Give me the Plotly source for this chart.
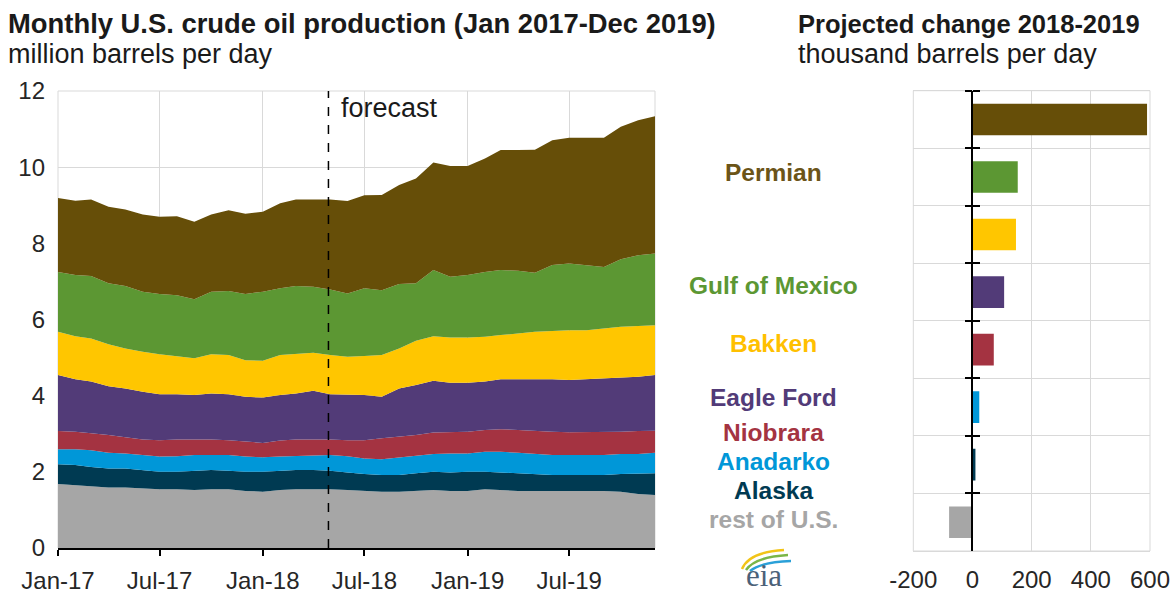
import plotly.graph_objects as go
import pandas as pd

W, H = 1173, 596


def px(x):
    return x / W


def py(y):
    return 1 - y / H


FONT = "Liberation Sans, Arial, sans-serif"

# ---------------- data ----------------
months = pd.date_range("2017-01-01", periods=36, freq="MS")

rest_us = [1.68, 1.65, 1.63, 1.59, 1.59, 1.57, 1.54, 1.54, 1.52, 1.54, 1.54, 1.50,
           1.48, 1.52, 1.54, 1.54, 1.54, 1.52, 1.50, 1.48, 1.48, 1.50, 1.52, 1.50,
           1.50, 1.54, 1.52, 1.50, 1.50, 1.50, 1.50, 1.50, 1.50, 1.48, 1.42, 1.39]
alaska = [0.52, 0.53, 0.50, 0.50, 0.50, 0.48, 0.46, 0.46, 0.51, 0.51, 0.49, 0.50,
          0.52, 0.51, 0.51, 0.51, 0.49, 0.46, 0.44, 0.44, 0.44, 0.46, 0.48, 0.48,
          0.50, 0.46, 0.46, 0.46, 0.44, 0.42, 0.42, 0.42, 0.42, 0.46, 0.54, 0.57]
anadarko = [0.39, 0.41, 0.44, 0.41, 0.39, 0.39, 0.40, 0.41, 0.41, 0.39, 0.41, 0.40,
            0.38, 0.37, 0.36, 0.39, 0.41, 0.43, 0.41, 0.41, 0.46, 0.45, 0.47, 0.50,
            0.48, 0.53, 0.55, 0.54, 0.53, 0.52, 0.52, 0.52, 0.52, 0.53, 0.51, 0.54]
niobrara = [0.48, 0.46, 0.44, 0.47, 0.43, 0.41, 0.43, 0.44, 0.41, 0.41, 0.39, 0.39,
            0.38, 0.42, 0.44, 0.41, 0.41, 0.42, 0.48, 0.55, 0.54, 0.56, 0.56, 0.56,
            0.57, 0.57, 0.59, 0.60, 0.60, 0.61, 0.60, 0.60, 0.60, 0.58, 0.60, 0.58]
eagle_ford = [1.47, 1.38, 1.36, 1.28, 1.28, 1.25, 1.21, 1.19, 1.17, 1.21, 1.21, 1.18,
              1.19, 1.20, 1.21, 1.28, 1.19, 1.19, 1.19, 1.09, 1.27, 1.31, 1.36, 1.30,
              1.29, 1.27, 1.31, 1.33, 1.36, 1.38, 1.37, 1.39, 1.41, 1.43, 1.43, 1.46]
bakken = [1.14, 1.13, 1.13, 1.10, 1.05, 1.05, 1.05, 1.00, 0.96, 1.03, 1.03, 0.96,
          0.97, 1.05, 1.03, 1.00, 1.03, 1.00, 1.02, 1.10, 1.05, 1.16, 1.17, 1.19,
          1.19, 1.18, 1.16, 1.20, 1.25, 1.27, 1.31, 1.29, 1.32, 1.33, 1.33, 1.31]
gulf_of_mexico = [1.57, 1.61, 1.64, 1.60, 1.64, 1.58, 1.58, 1.60, 1.55, 1.64, 1.68, 1.74,
                  1.81, 1.75, 1.79, 1.73, 1.72, 1.66, 1.78, 1.70, 1.69, 1.51, 1.74, 1.59,
                  1.64, 1.70, 1.71, 1.65, 1.55, 1.73, 1.75, 1.71, 1.61, 1.77, 1.86, 1.88]
permian = [1.94, 1.95, 2.01, 2.01, 2.01, 2.03, 2.03, 2.07, 2.04, 2.03, 2.12, 2.11,
           2.10, 2.23, 2.27, 2.29, 2.36, 2.43, 2.44, 2.50, 2.60, 2.75, 2.82, 2.91,
           2.86, 2.98, 3.15, 3.17, 3.23, 3.28, 3.30, 3.34, 3.39, 3.48, 3.54, 3.61]

region_names = ["Permian", "Gulf of Mexico", "Bakken", "Eagle Ford",
                "Niobrara", "Anadarko", "Alaska", "rest of U.S."]
region_colors = ["#664e08", "#5c9733", "#ffc600", "#523b78",
                 "#a43341", "#0097d8", "#003a52", "#a6a6a6"]
label_colors = ["#6b5418", "#5c9733", "#ffc000", "#523b78",
                "#a43341", "#0097d8", "#003a52", "#a6a6a6"]
change_2018_2019 = [590, 153, 147, 107, 72, 23, 10, -79]

series_bottom_up = [
    ("rest of U.S.", rest_us),
    ("Alaska", alaska),
    ("Anadarko", anadarko),
    ("Niobrara", niobrara),
    ("Eagle Ford", eagle_ford),
    ("Bakken", bakken),
    ("Gulf of Mexico", gulf_of_mexico),
    ("Permian", permian),
]
color_of = dict(zip(region_names, region_colors))

x_ticks = ["Jan-17", "Jul-17", "Jan-18", "Jul-18", "Jan-19", "Jul-19"]
change_ticks = [-200, 0, 200, 400, 600]
change_tick_text = ["-200", "0", "200", "400", "600"]
forecast_start = "2018-04-28"

# ---------------- figure ----------------
fig = go.Figure()

for name, vals in series_bottom_up:
    fig.add_trace(go.Scatter(
        x=months, y=vals, name=name, mode="lines",
        stackgroup="prod", line=dict(width=0, color=color_of[name]),
        fillcolor=color_of[name], xaxis="x", yaxis="y", showlegend=False,
    ))

fig.add_trace(go.Bar(
    x=change_2018_2019, y=region_names, orientation="h",
    marker=dict(color=region_colors, line=dict(width=0)),
    width=0.55, xaxis="x2", yaxis="y2", showlegend=False,
))
# invisible twin used only to draw the right-hand half of the crossing ticks
fig.add_trace(go.Bar(
    x=change_2018_2019, y=region_names, orientation="h",
    opacity=0, hoverinfo="skip", width=0.55,
    xaxis="x2", yaxis="y3", showlegend=False,
))

L_X0, L_X1, L_Y0, L_Y1 = 58, 655, 548, 91
R_X0, R_X1, R_Y0, R_Y1 = 913.3, 1150, 551, 90.7
zero_px = R_X0 + (R_X1 - R_X0) * 200 / 800

cat_order = list(reversed(region_names))
tickfont = dict(family=FONT, size=24, color="#262626")

fig.update_layout(
    width=W, height=H,
    margin=dict(l=0, r=0, t=0, b=0, autoexpand=False),
    paper_bgcolor="white", plot_bgcolor="white",
    font=dict(family=FONT, color="#262626"),
    bargap=0.45,
    xaxis=dict(
        domain=[px(L_X0), px(L_X1)], anchor="y", automargin=False,
        type="date", range=[months[0], months[-1]],
        tickvals=pd.date_range("2017-01-01", periods=6, freq="6MS"),
        ticktext=x_ticks,
        showgrid=True, gridcolor="#d9d9d9", gridwidth=1,
        showline=True, linecolor="black", linewidth=1.5,
        ticks="outside", ticklen=6, tickcolor="black", tickwidth=1.5,
        ticklabelstandoff=4,
        tickfont=tickfont, zeroline=False,
    ),
    yaxis=dict(
        domain=[py(L_Y0), py(L_Y1)], anchor="x", automargin=False,
        range=[0, 12], dtick=2,
        showgrid=True, gridcolor="#d9d9d9", gridwidth=1,
        zeroline=False, showline=False, ticks="",
        ticklabelstandoff=12, tickfont=tickfont,
    ),
    xaxis2=dict(
        domain=[px(R_X0), px(R_X1)], anchor="y2", automargin=False,
        range=[-200, 600], tickvals=change_ticks, ticktext=change_tick_text,
        showgrid=True, gridcolor="#d9d9d9", gridwidth=1,
        zeroline=False, showline=True, linecolor="#d9d9d9", mirror=True,
        ticks="", ticklabelstandoff=7, tickfont=tickfont,
    ),
    yaxis2=dict(
        domain=[py(R_Y0), py(R_Y1)], anchor="free", position=px(zero_px),
        automargin=False,
        type="category", categoryorder="array", categoryarray=cat_order,
        range=[-0.5, 7.5],
        showgrid=True, gridcolor="#d9d9d9", gridwidth=1,
        tickson="boundaries", ticks="outside", ticklen=7, tickcolor="black",
        tickwidth=1.5,
        showline=True, linecolor="black", linewidth=1.5,
        showticklabels=False, zeroline=False,
    ),
    yaxis3=dict(
        domain=[py(R_Y0), py(R_Y1)], anchor="free", position=px(zero_px),
        overlaying="y2", side="right", automargin=False,
        type="category", categoryorder="array", categoryarray=cat_order,
        range=[-0.5, 7.5], showgrid=False,
        tickson="boundaries", ticks="outside", ticklen=7, tickcolor="black",
        tickwidth=1.5,
        showline=False, showticklabels=False, zeroline=False,
    ),
)

shapes = [
    # panel frames (drawn under the data)
    dict(type="rect", xref="x domain", yref="y domain", x0=0, x1=1, y0=0, y1=1,
         line=dict(color="#d9d9d9", width=1), layer="below"),
    dict(type="rect", xref="x2 domain", yref="y2 domain", x0=0, x1=1, y0=0, y1=1,
         line=dict(color="#d9d9d9", width=1), layer="below"),
    # forecast divider
    dict(type="line", xref="x", yref="y domain", x0=forecast_start, x1=forecast_start,
         y0=0, y1=1, line=dict(color="black", width=1.5, dash="dash"), layer="above"),
]


def arc(xa, ya, xb, yb, xc, yc, color, w):
    return dict(type="path", xref="paper", yref="paper",
                path=f"M {px(xa)},{py(ya)} Q {px(xb)},{py(yb)} {px(xc)},{py(yc)}",
                line=dict(color=color, width=w))


shapes += [
    arc(742, 569, 749, 552, 784, 550, "#f2c417", 2.5),
    arc(746, 570, 755, 557, 788, 555, "#7ab648", 2.5),
    arc(750, 571, 761, 562, 791, 561, "#2aa0d8", 2.5),
]
fig.update_layout(shapes=shapes)

annotations = [
    dict(text="<b>Monthly U.S. crude oil production (Jan 2017-Dec 2019)</b>",
         x=px(6), y=py(24), xanchor="left", yanchor="middle",
         font=dict(family=FONT, size=27.4, color="#1a1a1a")),
    dict(text="million barrels per day",
         x=px(6), y=py(54), xanchor="left", yanchor="middle",
         font=dict(family=FONT, size=27, color="#1a1a1a")),
    dict(text="<b>Projected change 2018-2019</b>",
         x=px(796), y=py(24), xanchor="left", yanchor="middle",
         font=dict(family=FONT, size=25.5, color="#1a1a1a")),
    dict(text="thousand barrels per day",
         x=px(796), y=py(54), xanchor="left", yanchor="middle",
         font=dict(family=FONT, size=27, color="#1a1a1a")),
    dict(text="forecast", x=px(339), y=py(108), xanchor="left", yanchor="middle",
         font=dict(family=FONT, size=27, color="#1a1a1a")),
    dict(text="eia", x=px(764), y=py(575), xanchor="center", yanchor="middle",
         font=dict(family="Liberation Serif, DejaVu Serif, serif", size=31,
                   color="#4b6178")),
]

label_y = [172, 285, 343, 397, 432, 461, 490, 519]
for name, col, yy in zip(region_names, label_colors, label_y):
    annotations.append(dict(
        text=f"<b>{name}</b>", x=px(773), y=py(yy), xanchor="center", yanchor="middle",
        font=dict(family=FONT, size=24.5, color=col)))

for a in annotations:
    a.update(xref="paper", yref="paper", showarrow=False)
fig.update_layout(annotations=annotations)

fig.write_html(
    "out.html",
    config={"displayModeBar": False},
    post_script="document.body.style.margin='0';document.body.style.padding='0';",
)
